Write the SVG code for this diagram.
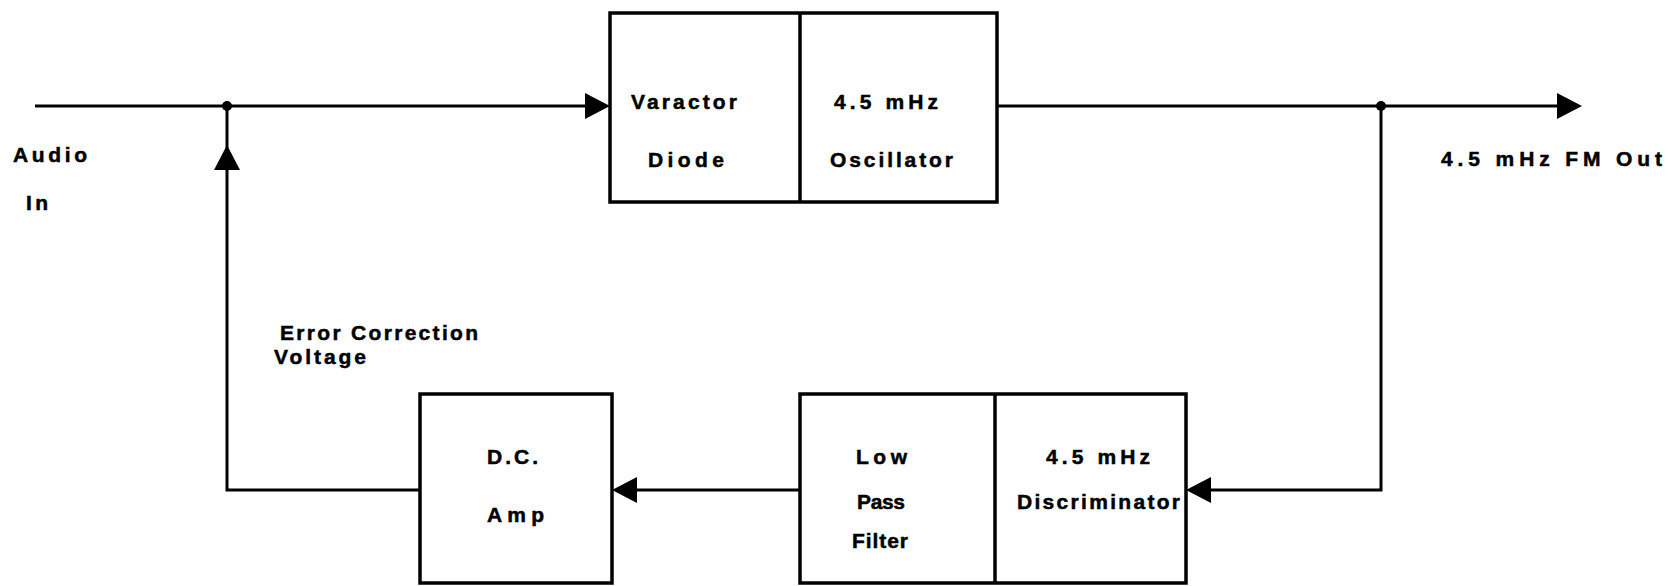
<svg xmlns="http://www.w3.org/2000/svg" width="1668" height="586" viewBox="0 0 1668 586">
<style>
.box{fill:#fff;stroke:#000;stroke-width:3.5}
.ln{fill:none;stroke:#000;stroke-width:3}
.t{font-family:"Liberation Sans",Arial,sans-serif;font-weight:bold;font-size:21px;fill:#000;stroke:#000;stroke-width:0.5}
</style>
<defs>
<path id="ah" d="M0,0 L-25,-13 L-25,13 Z" fill="#000"/>
</defs>
<rect width="1668" height="586" fill="#fff"/>
<g id="connectors">
<path class="ln" d="M35,106 H600"/>
<use href="#ah" transform="translate(610,106)"/>
<path class="ln" d="M997,106 H1572"/>
<use href="#ah" transform="translate(1582,106)"/>
<path class="ln" d="M1381,106 V490 H1196"/>
<use href="#ah" transform="translate(1186,490) rotate(180)"/>
<path class="ln" d="M800,490 H622"/>
<use href="#ah" transform="translate(612,490) rotate(180)"/>
<path class="ln" d="M420,490 H227 V106"/>
<use href="#ah" transform="translate(227,145) rotate(-90)"/>
<circle cx="227" cy="106" r="5" fill="#000"/>
<circle cx="1381" cy="106" r="5" fill="#000"/>
</g>
<g id="vco">
<rect class="box" x="610" y="13" width="387" height="189"/>
<line class="ln" x1="800" y1="13" x2="800" y2="202" style="stroke-width:3.5"/>
<text class="t" x="631" y="109" textLength="106">Varactor</text>
<text class="t" x="648" y="167" textLength="76">Diode</text>
<text class="t" x="834" y="109" textLength="104">4.5 mHz</text>
<text class="t" x="830" y="167" textLength="123">Oscillator</text>
</g>
<g id="dcamp">
<rect class="box" x="420" y="394" width="192" height="189"/>
<text class="t" x="487" y="464" textLength="51">D.C.</text>
<text class="t" x="487" y="522" textLength="57">Amp</text>
</g>
<g id="lpfdisc">
<rect class="box" x="800" y="394" width="386" height="189"/>
<line class="ln" x1="995" y1="394" x2="995" y2="583" style="stroke-width:3.5"/>
<text class="t" x="856" y="464" textLength="51">Low</text>
<text class="t" x="857" y="509" textLength="48">Pass</text>
<text class="t" x="852" y="548" textLength="56">Filter</text>
<text class="t" x="1046" y="464" textLength="104">4.5 mHz</text>
<text class="t" x="1017" y="509" textLength="163">Discriminator</text>
</g>
<g id="labels">
<text class="t" x="13" y="162" textLength="74">Audio</text>
<text class="t" x="26" y="210" textLength="22">In</text>
<text class="t" x="1441" y="166" textLength="221">4.5 mHz FM Out</text>
<text class="t" x="280" y="340" textLength="198">Error Correction</text>
<text class="t" x="274" y="364" textLength="92">Voltage</text>
</g>
</svg>
